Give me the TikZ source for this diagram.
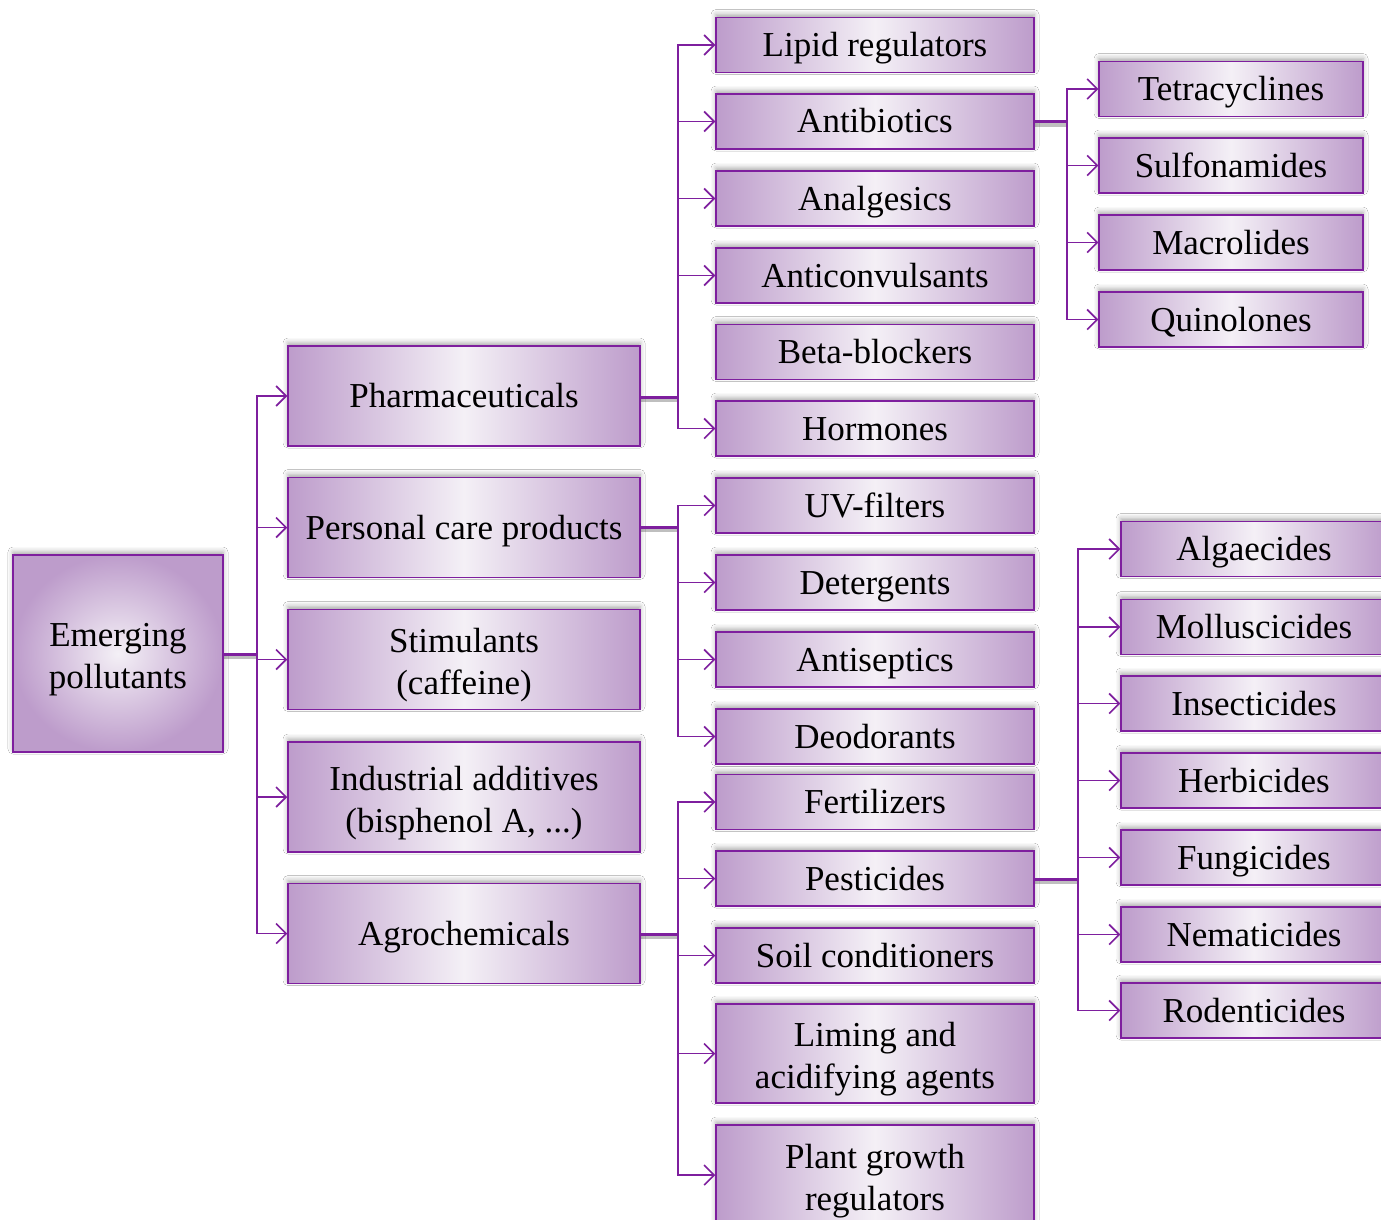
\documentclass[tikz,border=0pt]{standalone}
\usepackage{fontspec}
\setmainfont{Liberation Serif}
\usetikzlibrary{shadows.blur,arrows.meta}
\definecolor{pEdge}{HTML}{BD9CCB}
\definecolor{pMid}{HTML}{F4F0F6}
\definecolor{pLine}{HTML}{7E1F9E}
\newcommand{\twol}[2]{\raisebox{-6pt}[\height][\depth]{\begin{tabular}{@{}c@{}}#1\\#2\end{tabular}}}
\tikzset{
  box/.style={draw=pLine, line width=1.5pt, left color=pEdge, right color=pEdge, middle color=pMid,
    inner sep=0pt, align=center, font=\fontsize{35}{42}\selectfont,
    blur shadow={shadow xshift=0pt, shadow yshift=3pt, shadow blur radius=5pt, shadow opacity=35}},
  oneline/.style={text height=23pt, text depth=0pt},
  rootbox/.style={box, inner color=pMid, outer color=pEdge, minimum width=210pt, minimum height=197pt},
  lone/.style={box, minimum width=352pt, minimum height=100pt},
  ltwo/.style={box, minimum width=318pt, minimum height=55pt},
  lthreeA/.style={box, oneline, minimum width=264pt, minimum height=55pt},
  lthreeB/.style={box, oneline, minimum width=266pt, minimum height=55pt},
  conn/.style={draw=pLine, line width=1.6pt, -{Straight Barb[length=10pt,width=20pt,line width=1.6pt]}},
  stem/.style={draw=pLine, line width=3pt},
  stemshadow/.style={draw=black, opacity=0.25, line width=4pt},
}
\begin{document}
\begin{tikzpicture}[x=1pt,y=-1pt]
\useasboundingbox[fill=white] (0,0) rectangle (1381,1220);

% root and level 1
\node[rootbox] (root) at (118,653.5) {\twol{Emerging}{pollutants}};
\node[lone, oneline] (pharm) at (464,396) {Pharmaceuticals};
\node[lone, oneline] (pcp) at (464,527.5) {Personal care products};
\node[lone] (stim) at (464,659.5) {\twol{Stimulants}{(caffeine)}};
\node[lone, minimum height=110pt] (ind) at (464,797) {\twol{Industrial additives}{(bisphenol A, ...)}};
\node[lone, oneline] (agro) at (464,933.5) {Agrochemicals};

% level 2
\node[ltwo, oneline] (lipid) at (875,45) {Lipid regulators};
\node[ltwo, oneline] (antib) at (875,121.5) {Antibiotics};
\node[ltwo, oneline] (analg) at (875,198.5) {Analgesics};
\node[ltwo, oneline] (anticonv) at (875,275.5) {Anticonvulsants};
\node[ltwo, oneline] (beta) at (875,352) {Beta-blockers};
\node[ltwo, oneline] (horm) at (875,428.5) {Hormones};
\node[ltwo, oneline] (uv) at (875,505.5) {UV-filters};
\node[ltwo, oneline] (deterg) at (875,582.5) {Detergents};
\node[ltwo, oneline] (antisep) at (875,659.5) {Antiseptics};
\node[ltwo, oneline] (deod) at (875,736.5) {Deodorants};
\node[ltwo, oneline] (fert) at (875,802) {Fertilizers};
\node[ltwo, oneline] (pest) at (875,878.5) {Pesticides};
\node[ltwo, oneline] (soil) at (875,955.5) {Soil conditioners};
\node[ltwo, minimum height=99pt] (liming) at (875,1053.5) {\twol{Liming and}{acidifying agents}};
\node[ltwo, minimum height=100pt] (plant) at (875,1175) {\twol{Plant growth}{regulators}};

% level 3
\node[lthreeA] (tetra) at (1231,89) {Tetracyclines};
\node[lthreeA] (sulfo) at (1231,165.5) {Sulfonamides};
\node[lthreeA] (macro) at (1231,242.5) {Macrolides};
\node[lthreeA] (quino) at (1231,319.5) {Quinolones};

\node[lthreeB] (algae) at (1254,549) {Algaecides};
\node[lthreeB] (mollu) at (1254,627) {Molluscicides};
\node[lthreeB] (insect) at (1254,703.5) {Insecticides};
\node[lthreeB] (herb) at (1254,780.5) {Herbicides};
\node[lthreeB] (fung) at (1254,857.5) {Fungicides};
\node[lthreeB] (nema) at (1254,934.5) {Nematicides};
\node[lthreeB] (rodent) at (1254,1010.5) {Rodenticides};

% bus points
\coordinate (b0) at (257,654);
\coordinate (b1) at (678,397);
\coordinate (b2) at (678,527);
\coordinate (b3) at (678,934);
\coordinate (b4) at (1067,122);
\coordinate (b5) at (1078,879);

% stems
\draw[stemshadow] ([yshift=-3pt]root.east |- b0) -- ([yshift=-3pt]b0);
\draw[stem] (root.east |- b0) -- (b0);
\draw[stemshadow] ([yshift=-3pt]pharm.east |- b1) -- ([yshift=-3pt]b1);
\draw[stem] (pharm.east |- b1) -- (b1);
\draw[stemshadow] ([yshift=-3pt]pcp.east |- b2) -- ([yshift=-3pt]b2);
\draw[stem] (pcp.east |- b2) -- (b2);
\draw[stemshadow] ([yshift=-3pt]agro.east |- b3) -- ([yshift=-3pt]b3);
\draw[stem] (agro.east |- b3) -- (b3);
\draw[stemshadow] ([yshift=-3pt]antib.east |- b4) -- ([yshift=-3pt]b4);
\draw[stem] (antib.east |- b4) -- (b4);
\draw[stemshadow] ([yshift=-3pt]pest.east |- b5) -- ([yshift=-3pt]b5);
\draw[stem] (pest.east |- b5) -- (b5);

% arrows
\foreach \t in {pharm,pcp,stim,ind,agro} \draw[conn] (b0) |- (\t.west);
\foreach \t in {lipid,antib,analg,anticonv,horm} \draw[conn] (b1) |- (\t.west);
\foreach \t in {uv,deterg,antisep,deod} \draw[conn] (b2) |- (\t.west);
\foreach \t in {fert,pest,soil,liming,plant} \draw[conn] (b3) |- (\t.west);
\foreach \t in {tetra,sulfo,macro,quino} \draw[conn] (b4) |- (\t.west);
\foreach \t in {algae,mollu,insect,herb,fung,nema,rodent} \draw[conn] (b5) |- (\t.west);
\end{tikzpicture}
\end{document}
